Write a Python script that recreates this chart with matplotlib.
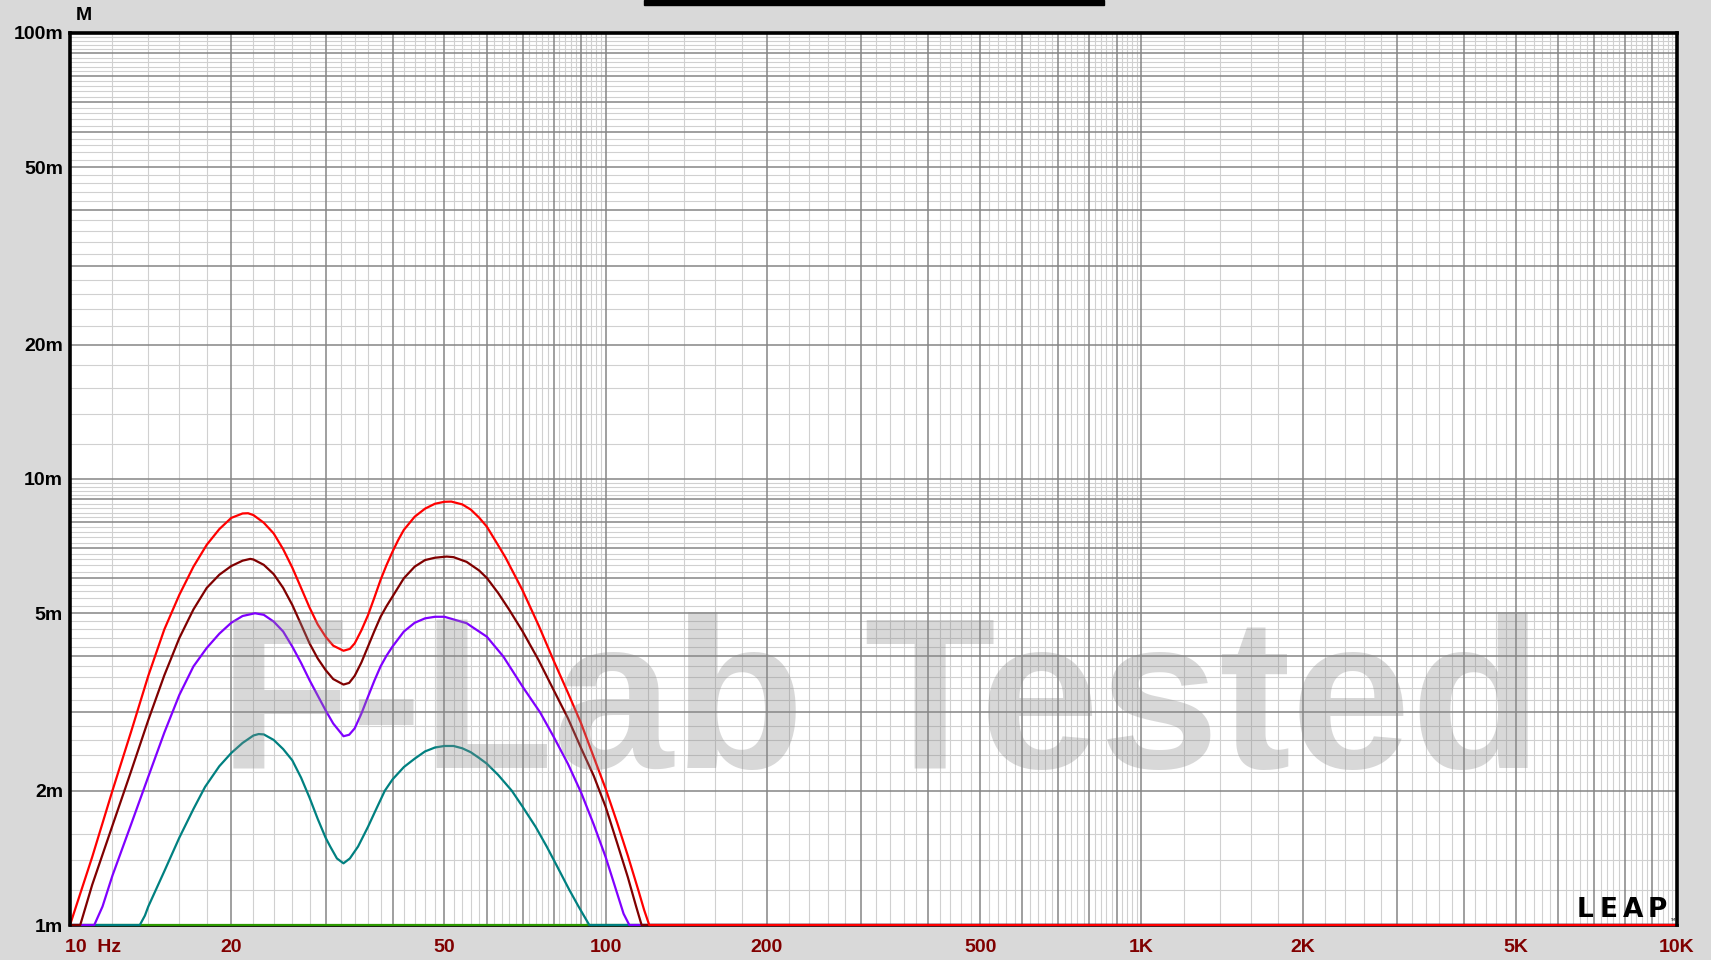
import matplotlib
matplotlib.use("Agg")
import matplotlib.pyplot as plt
from matplotlib.patches import Rectangle

# cone excursion (mm) vs frequency (Hz)
# 1.0 mm = trace lying on the bottom edge of the chart
red_hz = [10, 11, 12, 13, 14, 15, 16, 17, 18, 19,
          20, 21, 21.5, 22, 23, 24, 25, 26, 27, 28,
          29, 30, 31, 32.4, 33.3, 34, 35, 36, 37, 38,
          39, 40, 41, 42, 44, 46, 48, 50, 51.5, 54,
          56, 58, 60, 63, 65, 70, 75, 80, 85, 90,
          95, 100, 105, 110, 115, 118, 120.6, 10000]
red_mm = [1.0, 1.42, 2.0, 2.71, 3.62, 4.6, 5.5, 6.36, 7.12, 7.72,
          8.18, 8.37, 8.38, 8.3, 7.98, 7.55, 6.96, 6.33, 5.7, 5.15,
          4.72, 4.43, 4.23, 4.12, 4.16, 4.28, 4.58, 4.95, 5.42, 5.94,
          6.42, 6.87, 7.3, 7.69, 8.23, 8.58, 8.8, 8.89, 8.9, 8.77,
          8.54, 8.2, 7.82, 7.1, 6.67, 5.62, 4.69, 3.91, 3.32, 2.83,
          2.38, 2.02, 1.7, 1.43, 1.2, 1.08, 1.0, 1.0]

maroon_hz = [10, 10.45, 10.7, 11, 12, 13, 14, 15, 16, 17,
             18, 19, 20, 21, 21.7, 22, 23, 24, 25, 26,
             27, 28, 29, 30, 31, 32.4, 33.2, 34, 35, 36,
             37, 38, 39, 40, 42, 44, 46, 48, 50.5, 52,
             55, 58, 60, 63, 66, 70, 75, 80, 85, 90,
             95, 100, 105, 110, 114, 116.7, 10000]
maroon_mm = [1.0, 1.0, 1.1, 1.23, 1.67, 2.21, 2.88, 3.63, 4.4, 5.1,
             5.7, 6.1, 6.38, 6.56, 6.62, 6.6, 6.42, 6.12, 5.7, 5.22,
             4.72, 4.28, 3.96, 3.73, 3.56, 3.46, 3.49, 3.62, 3.88, 4.21,
             4.56, 4.91, 5.19, 5.45, 5.99, 6.36, 6.58, 6.66, 6.7, 6.68,
             6.52, 6.24, 6.0, 5.55, 5.1, 4.55, 3.92, 3.36, 2.91, 2.49,
             2.16, 1.84, 1.53, 1.28, 1.1, 1.0, 1.0]

purple_hz = [10, 11.1, 11.5, 12, 13, 14, 15, 16, 17, 18,
             19, 20, 21, 22.15, 23, 24, 25, 26, 27, 28,
             29, 30, 31, 32.4, 33.2, 34, 35, 36, 37, 38,
             39, 40, 42, 44, 46, 48, 50, 55, 60, 64.4,
             70, 75.4, 80, 85, 90, 95, 100, 105, 108, 110.7,
             10000]
purple_mm = [1.0, 1.0, 1.1, 1.29, 1.68, 2.15, 2.7, 3.28, 3.8, 4.18,
             4.5, 4.76, 4.93, 5.0, 4.96, 4.79, 4.55, 4.21, 3.87, 3.54,
             3.27, 3.03, 2.83, 2.65, 2.67, 2.76, 2.98, 3.25, 3.53, 3.8,
             4.02, 4.21, 4.55, 4.76, 4.87, 4.91, 4.91, 4.75, 4.43, 4.0,
             3.42, 3.0, 2.64, 2.3, 1.98, 1.68, 1.42, 1.18, 1.06, 1.0,
             1.0]

teal_hz = [10, 13.5, 13.8, 14, 15, 16, 17, 17.87, 19, 20,
           21, 22, 22.5, 23, 24, 25, 26, 27, 28, 29,
           30, 30.6, 31.5, 32.4, 33.3, 34.5, 36, 37.3, 38.7, 40,
           42, 44, 46, 48, 50, 52, 54, 56, 58, 60,
           63, 66.8, 70, 74, 77.6, 81, 85.5, 89, 93.2, 10000]
teal_mm = [1.0, 1.0, 1.05, 1.1, 1.32, 1.57, 1.82, 2.04, 2.27, 2.43,
           2.56, 2.66, 2.68, 2.675, 2.6, 2.48, 2.34, 2.14, 1.93, 1.73,
           1.57, 1.5, 1.41, 1.375, 1.41, 1.5, 1.66, 1.82, 2.0, 2.12,
           2.26, 2.36, 2.45, 2.5, 2.52, 2.52, 2.49, 2.44, 2.37, 2.3,
           2.17, 2.0, 1.84, 1.66, 1.5, 1.36, 1.2, 1.1, 1.0, 1.0]

green_hz = [10, 10000]
green_mm = [1.0, 1.0]

x_ticks = [10, 20, 50, 100, 200, 500, 1000, 2000, 5000, 10000]
x_labels = ["", "20", "50", "100", "200", "500", "1K", "2K", "5K", "10K"]
y_ticks = [1, 2, 5, 10, 20, 50, 100]
y_labels = ["1m", "2m", "5m", "10m", "20m", "50m", "100m"]

W, H = 1711, 960
fig = plt.figure(figsize=(W / 100, H / 100), dpi=100, facecolor="#d9d9d9")
ax = fig.add_axes([70 / W, 35 / H, (1677 - 70) / W, (927 - 35) / H])
ax.set_facecolor("white")
ax.set_xscale("log")
ax.set_yscale("log")
ax.set_xlim(10, 10000)
ax.set_ylim(1, 100)

# grid: dark line at every integer step, light ones every 0.2 step
for dec in [10, 100, 1000]:
    for m in range(1, 10):
        ax.axvline(m * dec, color="#858585", lw=1.1, zorder=1)
        for k in range(1, 5):
            ax.axvline((m + 0.2 * k) * dec, color="#d0d0d0", lw=0.8, zorder=0.5)
for dec in [1, 10]:
    for m in range(1, 10):
        ax.axhline(m * dec, color="#858585", lw=1.1, zorder=1)
        for k in range(1, 5):
            ax.axhline((m + 0.2 * k) * dec, color="#d0d0d0", lw=0.8, zorder=0.5)

# watermark
fig.text(881 / W, (H - 768) / H, "F-Lab Tested", fontsize=155, fontweight="bold",
         family="Liberation Sans", color="#8a8a8a", alpha=0.33, ha="center",
         va="baseline", zorder=2)

lw = 1.6
ax.plot(green_hz, green_mm, color="#2e9a00", lw=lw, zorder=3, clip_on=False)
ax.plot(teal_hz, teal_mm, color="#008080", lw=lw, zorder=3, clip_on=False)
ax.plot(purple_hz, purple_mm, color="#8000ff", lw=lw, zorder=3, clip_on=False)
ax.plot(maroon_hz, maroon_mm, color="#800000", lw=lw, zorder=3, clip_on=False)
ax.plot(red_hz, red_mm, color="#ff0000", lw=lw, zorder=3, clip_on=False)

for side in ["left", "top", "right"]:
    ax.spines[side].set_linewidth(2.6)
    ax.spines[side].set_color("black")
    ax.spines[side].set_zorder(4)
ax.spines["bottom"].set_linewidth(2.0)
ax.spines["bottom"].set_zorder(2.5)

ax.set_xticks(x_ticks)
ax.set_xticklabels(x_labels)
ax.set_yticks(y_ticks)
ax.set_yticklabels(y_labels)
ax.minorticks_off()
ax.tick_params(axis="x", length=0, pad=10, labelsize=14, labelcolor="#800000")
ax.tick_params(axis="y", length=0, pad=5, labelsize=14, labelcolor="black")
for lab in ax.get_xticklabels() + ax.get_yticklabels():
    lab.set_fontweight("bold")
    lab.set_family("Liberation Sans")

fig.text(65 / W, (H - 947) / H, "10  Hz", fontsize=14, fontweight="bold",
         family="Liberation Sans", color="#800000", ha="left", va="center")
fig.text(84 / W, (H - 15) / H, "M", fontsize=14, fontweight="bold",
         family="Liberation Sans", color="black", ha="center", va="center")

# LEAP logo, bottom right
for i, ch in enumerate("LEAP"):
    fig.text((1585 + i * 24) / W, (H - 910) / H, ch, fontsize=19, fontweight="bold",
             family="DejaVu Sans", color="black", ha="center", va="center", zorder=5)
fig.text(1673 / W, (H - 920) / H, "TM", fontsize=2.5, color="black", ha="center",
         va="center", zorder=5)

# black bar at the top edge
fig.patches.append(Rectangle((644 / W, (H - 5) / H), 460 / W, 5 / H,
                             transform=fig.transFigure, color="black"))

fig.savefig("out.png", dpi=100, facecolor=fig.get_facecolor())
